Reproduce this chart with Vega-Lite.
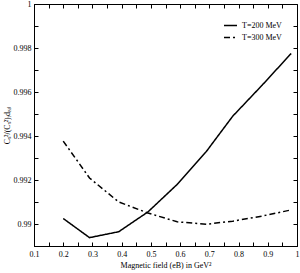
{
  "$schema": "https://vega.github.io/schema/vega-lite/v6.json",
  "width": 263,
  "height": 242,
  "autosize": {"type": "none"},
  "padding": {"left": 34, "top": 4, "right": 3, "bottom": 27},
  "background": "white",
  "config": {
    "view": {"stroke": "black", "strokeWidth": 1},
    "axis": {"labelFont": "Liberation Serif", "titleFont": "Liberation Serif", "labelFontSize": 8, "titleFontSize": 8, "titleFontWeight": "normal", "labelColor": "black", "titleColor": "black", "domainColor": "black", "grid": false},
    "legend": {"labelFont": "Liberation Serif", "labelFontSize": 8, "labelColor": "black"}
  },
  "data": {"values": [
    {"b": 0.2, "v": 0.99025, "T": "T=200 MeV"},
    {"b": 0.29, "v": 0.98938, "T": "T=200 MeV"},
    {"b": 0.39, "v": 0.98965, "T": "T=200 MeV"},
    {"b": 0.49, "v": 0.99055, "T": "T=200 MeV"},
    {"b": 0.59, "v": 0.9918, "T": "T=200 MeV"},
    {"b": 0.69, "v": 0.9933, "T": "T=200 MeV"},
    {"b": 0.78, "v": 0.9949, "T": "T=200 MeV"},
    {"b": 0.88, "v": 0.9963, "T": "T=200 MeV"},
    {"b": 0.98, "v": 0.99775, "T": "T=200 MeV"},
    {"b": 0.2, "v": 0.99377, "T": "T=300 MeV"},
    {"b": 0.29, "v": 0.99209, "T": "T=300 MeV"},
    {"b": 0.39, "v": 0.991, "T": "T=300 MeV"},
    {"b": 0.49, "v": 0.9905, "T": "T=300 MeV"},
    {"b": 0.59, "v": 0.9901, "T": "T=300 MeV"},
    {"b": 0.69, "v": 0.98999, "T": "T=300 MeV"},
    {"b": 0.78, "v": 0.99013, "T": "T=300 MeV"},
    {"b": 0.88, "v": 0.99036, "T": "T=300 MeV"},
    {"b": 0.98, "v": 0.99064, "T": "T=300 MeV"}
  ]},
  "resolve": {"axis": {"x": "independent", "y": "independent"}},
  "layer": [
    {
      "mark": {"type": "line", "color": "black", "strokeWidth": 1.5},
      "encoding": {
        "x": {"field": "b", "type": "quantitative", "scale": {"domain": [0.1, 1], "nice": false, "zero": false},
          "axis": {"orient": "bottom", "values": [0.1,0.15,0.2,0.25,0.3,0.35,0.4,0.45,0.5,0.55,0.6,0.65,0.7,0.75,0.8,0.85,0.9,0.95,1],
            "labelExpr": "round(datum.value*100) % 10 == 0 ? format(datum.value, '~g') : ''",
            "ticks": true, "tickColor": "black", "tickWidth": 1, "tickSize": -4,
            "labelPadding": 8, "labelFlush": false, "labelOverlap": false,
            "title": "Magnetic field (eB) in GeV²", "titlePadding": 3}},
        "y": {"field": "v", "type": "quantitative", "scale": {"domain": [0.989, 1], "nice": false, "zero": false},
          "axis": {"orient": "left", "values": [0.989,0.99,0.991,0.992,0.993,0.994,0.995,0.996,0.997,0.998,0.999,1],
            "labelExpr": "round(datum.value*1000) % 2 == 0 ? format(datum.value, '~g') : ''",
            "ticks": true, "tickColor": "black", "tickWidth": 1, "tickSize": -4,
            "labelPadding": 7, "labelFlush": false, "labelOverlap": false,
            "title": "Cₛ²/(Cₛ²)ᵢdₑₐₗ", "titlePadding": 2}},
        "strokeDash": {"field": "T", "type": "nominal",
          "scale": {"domain": ["T=200 MeV", "T=300 MeV"], "range": [[1, 0], [6, 3, 2, 3]]},
          "legend": {"title": null, "orient": "none", "legendX": 189, "legendY": 14, "symbolType": "stroke", "symbolSize": 169, "symbolStrokeWidth": 1.5, "symbolStrokeColor": "black", "rowPadding": 0, "labelOffset": 4}}
      }
    },
    {
      "mark": {"type": "point", "opacity": 0},
      "encoding": {
        "x": {"field": "b", "type": "quantitative",
          "axis": {"orient": "top", "values": [0.1,0.15,0.2,0.25,0.3,0.35,0.4,0.45,0.5,0.55,0.6,0.65,0.7,0.75,0.8,0.85,0.9,0.95,1],
            "labels": false, "title": null, "domain": false, "ticks": true, "tickColor": "black", "tickWidth": 1, "tickSize": -4}},
        "y": {"field": "v", "type": "quantitative",
          "axis": {"orient": "right", "values": [0.989,0.99,0.991,0.992,0.993,0.994,0.995,0.996,0.997,0.998,0.999,1],
            "labels": false, "title": null, "domain": false, "ticks": true, "tickColor": "black", "tickWidth": 1, "tickSize": -4}}
      }
    }
  ]
}
